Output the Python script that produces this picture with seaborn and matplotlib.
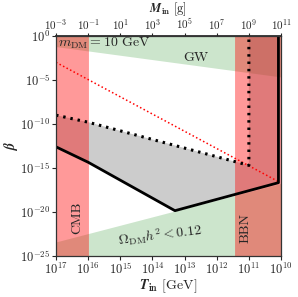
import numpy as np
import pandas as pd
import seaborn as sns
import matplotlib.pyplot as plt

# log10 values: x is log10(T_in / GeV), y is log10(beta)
t_solid = [17, 16, 13.3, 10.08, 10.08]
b_solid = [-12.6, -14.35, -19.85, -16.67, 0]
t_dot = [17, 16, 11.0, 11.0]
b_dot = [-9.0, -9.8, -14.7, 0]
t_red = [17, 10.08]
b_red = [-3.0, -16.55]
t_gw = [17, 10]
b_gw = [-1.21, -4.66]
t_dm = [17, 10]
b_dm = [-23.4, -16.75]
cmb_band = [16, 17]
bbn_band = [10, 11.44]
m_ticks = [-3, -1, 1, 3, 5, 7, 9, 11]

sns.set_theme(style='ticks')
plt.rcParams['font.family'] = 'serif'
plt.rcParams['font.serif'] = ['cmr10', 'DejaVu Serif']
plt.rcParams['mathtext.fontset'] = 'cm'
plt.rcParams['axes.formatter.use_mathtext'] = True
plt.rcParams['axes.unicode_minus'] = False

p = lambda v: 10.0 ** np.asarray(v, dtype=float)

fig = plt.figure(figsize=(2.98, 2.97), dpi=100)
ax = fig.add_axes([0.188, 0.138, 0.755, 0.741])
ax.set_xscale('log')
ax.set_yscale('log')

# allowed regions / constraints
ax.fill_between(p(t_gw), p(b_gw), 1, color='green', alpha=0.2, lw=0)
ax.fill_between(p(t_dm), 1e-25, p(b_dm), color='green', alpha=0.2, lw=0)
poly_x = np.concatenate([p(t_dot), p(t_solid)[::-1]])
poly_y = np.concatenate([p(b_dot), p(b_solid)[::-1]])
ax.fill(poly_x, poly_y, color='gray', alpha=0.4, lw=0)
ax.axvspan(*p(cmb_band), color='red', alpha=0.4, lw=0.4)
ax.axvspan(*p(bbn_band), color='red', alpha=0.4, lw=0.4)

df_s = pd.DataFrame({'T': p(t_solid), 'b': p(b_solid)})
df_d = pd.DataFrame({'T': p(t_dot), 'b': p(b_dot)})
df_r = pd.DataFrame({'T': p(t_red), 'b': p(b_red)})
sns.lineplot(data=df_r, x='T', y='b', sort=False, estimator=None, ax=ax,
             color='red', lw=1.1, ls=(0, (1, 1.6)))
sns.lineplot(data=df_d, x='T', y='b', sort=False, estimator=None, ax=ax,
             color='black', lw=2.2, ls=(0, (0.8, 1.6)))
sns.lineplot(data=df_s, x='T', y='b', sort=False, estimator=None, ax=ax,
             color='black', lw=2.0)

ax.set_xlim(1e17, 1e10)
ax.set_ylim(1e-25, 1)
ax.set_xticks(p(range(17, 9, -1)))
ax.set_yticks(p(range(-25, 1, 5)))
ax.minorticks_off()
ax.tick_params(labelsize=9, length=3, width=0.8, pad=1)
for s in ax.spines.values():
    s.set_linewidth(0.9)
    s.set_color('#333333')

secax = ax.secondary_xaxis('top', functions=(lambda T: 1e31 / T**2,
                                             lambda M: np.sqrt(1e31 / M)))
secax.set_xticks(p(m_ticks))
secax.minorticks_off()
secax.tick_params(labelsize=8, length=2.5, width=0.8, pad=0.5)
fig.text(0.565, 0.999, r'$\mathbfit{M}_{\mathbf{in}}$ [g]', fontsize=9,
         ha='center', va='top')

ax.set_xlabel(r'$\mathbfit{T}_{\mathbf{in}}$ [GeV]', fontsize=10, labelpad=0)
ax.set_ylabel(r'$\mathbfit{\beta}$', fontsize=10, labelpad=0)

ax.text(10**16.93, 10**-0.8, r'$m_{\rm DM} = 10$ GeV', fontsize=10,
        ha='left', va='center')
ax.text(10**12.66, 10**-2.5, 'GW', fontsize=10, ha='center', va='center')
ax.text(10**16.34, 10**-20.7, 'CMB', fontsize=10, ha='center', va='center',
        rotation=90)
ax.text(10**11.12, 10**-21.8, 'BBN', fontsize=10, ha='center', va='center',
        rotation=90)
ax.text(10**13.75, 10**-22.6, r'$\Omega_{\rm DM}h^2 < 0.12$', fontsize=10,
        ha='center', va='center', rotation=7)

fig.savefig('out.png', dpi=100)
